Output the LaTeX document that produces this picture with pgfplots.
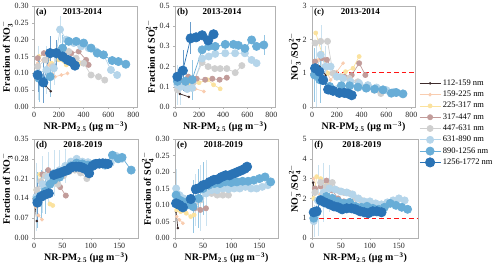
\documentclass[border=0pt]{standalone}
\usepackage{fontspec}
\setmainfont{Liberation Serif}
\usepackage{pgfplots}
\pgfplotsset{compat=1.18}
\definecolor{c1}{HTML}{3D2B2B}
\definecolor{c2}{HTML}{F9CDB0}
\definecolor{c3}{HTML}{FBE29E}
\definecolor{c4}{HTML}{C29C9A}
\definecolor{c5}{HTML}{CFCFCF}
\definecolor{c6}{HTML}{B5D5EA}
\definecolor{c7}{HTML}{68ADD7}
\definecolor{c8}{HTML}{2A73B5}
\definecolor{refred}{RGB}{255,20,20}
\pgfplotsset{
 panel/.style={scale only axis, width=103bp, height=101bp, xmin=0, clip=false,
  axis line style={gray!60}, tick style={gray!60, line width=0.4pt}, tick align=outside, major tick length=2pt,
  xtick pos=bottom, ytick pos=left,
  ticklabel style={font=\fontsize{8}{9}\selectfont, text=black!85},
  /pgf/number format/assume math mode=true,
  label style={font=\bfseries\fontsize{10}{11}\selectfont},
  xlabel={NR-PM$_{\mathbf{2.5}}$ (μg m$^{\mathbf{-3}}$)},
  xlabel style={yshift=3pt}, ylabel style={yshift=-5pt},
  legend image code/.code={\draw[mark repeat=2,mark phase=2] plot coordinates {(0cm,0cm)(0.37cm,0cm)(0.74cm,0cm)};},
 },
 toprow/.style={xmax=830, xtick={0,200,...,800}},
 botrow/.style={xmax=183, xtick={0,50,100,150}, height=99bp},
 eb/.style={error bars/.cd, y dir=both, y explicit, error mark=none, error bar style={#1!70, line width=0.35pt, solid}},
 s1/.style={color=c1, line width=0.7pt, mark=*, mark size=0.9pt, mark options={solid,fill=c1}},
 s2/.style={color=c2, line width=0.7pt, mark=*, mark size=1.5pt, mark options={solid,fill=c2}},
 s3/.style={color=c3, line width=0.7pt, mark=*, mark size=2.0pt, mark options={solid,fill=c3}},
 s4/.style={color=c4, line width=0.7pt, mark=*, mark size=2.6pt, mark options={solid,fill=c4}},
 s5/.style={color=c5, line width=0.7pt, mark=*, mark size=3.1pt, mark options={solid,fill=c5}},
 s6/.style={color=c6, line width=0.7pt, mark=*, mark size=3.6pt, mark options={solid,fill=c6}, eb=c6},
 s7/.style={color=c7, line width=0.7pt, mark=*, mark size=4.1pt, mark options={solid,fill=c7}, eb=c7},
 s8/.style={color=c8, line width=0.7pt, mark=*, mark size=4.7pt, mark options={solid,fill=c8}, eb=c8},
 reflin/.style={draw=refred, color=refred, line width=1.3pt, dash pattern=on 4.5pt off 3pt, forget plot, mark=none},
}
\newcommand{\plab}[2]{%
 \node[anchor=north west, font=\bfseries\fontsize{9}{9}\selectfont, inner sep=1pt] at (rel axis cs:0.01,0.985) {#1};
 \node[anchor=north, font=\bfseries\fontsize{9}{9}\selectfont, inner sep=1pt] at (rel axis cs:0.47,0.985) {#2};}
\begin{document}
\begin{tikzpicture}
\useasboundingbox (0,0) rectangle (500bp,270bp);
% (a)
\begin{axis}[panel, toprow, at={(34bp,264bp)}, anchor=north west,
 ymin=0, ymax=0.30, ytick={0,0.05,...,0.30}, yticklabel style={/pgf/number format/.cd, fixed, fixed zerofill, precision=2},
 ylabel={Fraction of NO$_{\mathbf{3}}^{\mathbf{-}}$}]
\addplot[s1] coordinates {(95,0.062)(135,0.047)};
\addplot[s2] coordinates {(30,0.13)(70,0.14)(120,0.125)(170,0.09)(220,0.095)(270,0.10)};
\addplot[s3] coordinates {(40,0.15)(90,0.16)(140,0.13)(200,0.14)(260,0.125)(330,0.14)(380,0.13)};
\addplot[s4] coordinates {(30,0.145)(80,0.16)(130,0.155)(190,0.16)(250,0.15)(300,0.16)(360,0.165)(420,0.14)(440,0.125)};
\addplot[s5] coordinates {(30,0.12)(90,0.14)(150,0.12)(210,0.17)(280,0.165)(340,0.145)(400,0.13)(460,0.095)(520,0.09)(570,0.08)};
\addplot[s6] coordinates {(30,0.10) +- (0,0.08) (100,0.11) +- (0,0.07) (160,0.115) +- (0,0.05) (210,0.23) +- (0,0.04) (260,0.20)(320,0.19)(380,0.18)(440,0.175)(500,0.165)(560,0.155)(620,0.11)(670,0.095)};
\addplot[s7] coordinates {(40,0.085) +- (0,0.07) (130,0.09) +- (0,0.06) (230,0.175) +- (0,0.04) (280,0.195)(340,0.195)(400,0.19)(460,0.175)(510,0.16)(560,0.155)(630,0.138)(680,0.135)(740,0.127)};
\addplot[s8] coordinates {(30,0.095) +- (0,0.05) (75,0.073) +- (0,0.06) (130,0.16) +- (0,0.05) (180,0.16) +- (0,0.04) (230,0.15)(270,0.14)(300,0.135)(330,0.123)};
\plab{(a)}{2013-2014}
\end{axis}
% (b)
\begin{axis}[panel, toprow, width=100bp, at={(175bp,264bp)}, anchor=north west,
 ymin=0, ymax=0.5, ytick={0,0.1,...,0.5}, yticklabel style={/pgf/number format/.cd, fixed, fixed zerofill, precision=1},
 ylabel={Fraction of SO$_{\mathbf{4}}^{\mathbf{2-}}$}]
\addplot[s1] coordinates {(40,0.065)(115,0.05)};
\addplot[s2] coordinates {(40,0.10)(100,0.105)(170,0.09)(240,0.077)};
\addplot[s3] coordinates {(60,0.10)(130,0.11)(200,0.12)(270,0.135)(320,0.11)(375,0.09)};
\addplot[s4] coordinates {(40,0.13)(110,0.15)(180,0.14)(250,0.135)(310,0.14)(370,0.135)(430,0.145)};
\addplot[s5] coordinates {(20,0.085)(90,0.10)(150,0.12)(225,0.22)(275,0.20)(330,0.19)(375,0.19)(430,0.19)(500,0.17)(555,0.205)};
\addplot[s6] coordinates {(20,0.11) +- (0,0.1) (47,0.10) +- (0,0.09) (101,0.089)(142,0.094)(225,0.24)(280,0.25)(334,0.263)(417,0.266)(499,0.266)(580,0.266)(636,0.233)(677,0.217)};
\addplot[s7] coordinates {(20,0.127)(88,0.127)(142,0.135) +- (0,0.1) (225,0.283)(280,0.30)(334,0.30)(417,0.31)(485,0.31)(526,0.305)(580,0.29)(636,0.332)(677,0.30)(737,0.307) +- (0,0.05)};
\addplot[s8] coordinates {(20,0.15)(65,0.18) +- (0,0.1) (130,0.34) +- (0,0.08) (175,0.345)(225,0.355)(275,0.33)(320,0.36)};
\plab{(b)}{2013-2014}
\end{axis}
% (c)
\begin{axis}[panel, toprow, at={(312bp,264bp)}, anchor=north west,
 ymin=0, ymax=3, ytick={0,1,2,3},
 ylabel={NO$_{\mathbf{3}}^{\mathbf{-}}$/SO$_{\mathbf{4}}^{\mathbf{2-}}$}]
\addplot[s1] coordinates {(60,1.2)(110,0.95)};
\addplot[s2] coordinates {(50,1.4)(100,1.2)(150,0.8)(200,1.05)(250,1.3)};
\addplot[s3] coordinates {(30,2.2)(80,1.6)(130,1.0)(200,0.9)(270,1.05)(330,1.15)(380,1.5)};
\addplot[s4] coordinates {(25,1.35)(80,1.45)(120,1.4)(180,1.0)(260,0.9)(320,0.95)(380,1.3)(430,0.95)};
\addplot[s5] coordinates {(25,1.9)(70,1.95)(125,1.95)(170,1.0)(230,0.9)(300,0.85)(370,0.75)(440,0.55)(500,0.5)(555,0.4)};
\addplot[s6] coordinates {(30,1.0) +- (0,1.0) (70,1.55) +- (0,0.9) (110,1.2) +- (0,0.6) (150,1.2)(200,0.9)(250,0.85)(310,0.75)(380,0.7)(450,0.65)(520,0.58)(600,0.5)(660,0.45)};
\addplot[s7] coordinates {(20,0.95) +- (0,0.8) (62,0.81) +- (0,0.7) (142,0.61)(236,0.63)(303,0.63)(370,0.59)(437,0.56)(505,0.53)(572,0.51)(639,0.41)(679,0.43)(733,0.39)};
\addplot[s8] coordinates {(25,1.15)(60,1.05)(90,0.8)(130,0.52)(170,0.48)(220,0.42)(260,0.42)(290,0.40)(320,0.35)};
\addplot[reflin] coordinates {(0,1.02)(830,1.02)};
\plab{(c)}{2013-2014}
\end{axis}
% (d)
\begin{axis}[panel, botrow, width=104bp, at={(34bp,131bp)}, anchor=north west,
 ymin=0, ymax=0.35, ytick={0,0.07,...,0.36}, yticklabel style={/pgf/number format/.cd, fixed, fixed zerofill, precision=2},
 ylabel={Fraction of NO$_{\mathbf{3}}^{\mathbf{-}}$}]
\addplot[s1] coordinates {(2,0.115)(5,0.06)};
\addplot[s2] coordinates {(3,0.11)(8,0.08)(14,0.065)};
\addplot[s3] coordinates {(3,0.17)(10,0.225)(20,0.17)(28,0.12)(33,0.115)};
\addplot[s4] coordinates {(5,0.15)(15,0.225)(25,0.24)(36,0.2)(46,0.18)(56,0.15)};
\addplot[s5] coordinates {(5,0.17)(12,0.2)(20,0.22)(30,0.2)(42,0.19)(52,0.22)(62,0.235)(72,0.24)(82,0.23)(93,0.21)};
\addplot[s6] coordinates {(4,0.145) +- (0,0.12) (15,0.19) +- (0,0.1) (25,0.215) +- (0,0.09) (35,0.23) +- (0,0.08) (45,0.24) +- (0,0.07) (55,0.255) +- (0,0.06) (65,0.27)(75,0.28)(85,0.27)(95,0.268)(105,0.262)(115,0.262)(125,0.255)(135,0.265)(145,0.29)(155,0.28)};
\addplot[s7] coordinates {(5,0.135) +- (0,0.1) (12,0.15) +- (0,0.09) (20,0.165) +- (0,0.08) (28,0.19)(35,0.205)(45,0.215)(55,0.235)(65,0.255)(75,0.265)(85,0.262)(95,0.258)(105,0.262)(115,0.265)(125,0.26)(138,0.293)(148,0.28)(155,0.285)(171,0.24)};
\addplot[s8] coordinates {(6,0.125) +- (0,0.07) (12,0.145)(18,0.152)(26,0.158)(35,0.223)(42,0.228)(47,0.231)(53,0.236)(59,0.24)(64,0.248)(68,0.252)(74,0.252)(79,0.252)(84,0.25)(88,0.246)(97,0.229)(103,0.255)(109,0.262)(115,0.263)(121,0.264)(126,0.263)(130,0.262)};
\plab{(d)}{2018-2019}
\end{axis}
% (e)
\begin{axis}[panel, botrow, at={(175bp,131bp)}, anchor=north west,
 ymin=0, ymax=0.30, ytick={0,0.05,...,0.30}, yticklabel style={/pgf/number format/.cd, fixed, fixed zerofill, precision=2},
 ylabel={Fraction of SO$_{\mathbf{4}}^{\mathbf{2-}}$}]
\addplot[s1] coordinates {(2,0.08)(5,0.03)};
\addplot[s2] coordinates {(3,0.065)(8,0.055)(14,0.045)};
\addplot[s3] coordinates {(3,0.085)(10,0.08)(20,0.075)(28,0.065)(34,0.07)};
\addplot[s4] coordinates {(5,0.10)(15,0.105)(25,0.11)(35,0.09)(45,0.085)(55,0.09)};
\addplot[s5] coordinates {(5,0.115)(15,0.12)(25,0.11)(35,0.105)(45,0.115)(55,0.135)(65,0.135)(75,0.13)(85,0.13)(95,0.13)};
\addplot[s6] coordinates {(2,0.15) +- (0,0.06) (8,0.13)(15,0.12)(25,0.11)(35,0.115) +- (0,0.08) (45,0.12) +- (0,0.1) (55,0.135) +- (0,0.1) (65,0.145)(75,0.145)(85,0.15)(95,0.148)(105,0.15)(115,0.15)(125,0.155)(135,0.15)(145,0.15)(155,0.155)(165,0.16)};
\addplot[s7] coordinates {(2,0.13)(8,0.115)(14,0.11)(22,0.10)(32,0.095) +- (0,0.08) (42,0.12) +- (0,0.09) (50,0.15) +- (0,0.08) (60,0.16)(70,0.165)(80,0.165)(90,0.17)(100,0.168)(110,0.17)(120,0.172)(130,0.172)(140,0.175)(150,0.18)(160,0.185)(170,0.17)};
\addplot[s8] coordinates {(2,0.105)(8,0.10)(14,0.093)(28,0.118)(37,0.148)(44,0.152)(50,0.16)(56,0.163)(62,0.17)(69,0.176)(76,0.178)(83,0.185)(90,0.19)(97,0.19)(104,0.195)(111,0.20)(118,0.205)(124,0.21)(128,0.216)};
\plab{(e)}{2018-2019}
\end{axis}
% (f)
\begin{axis}[panel, botrow, width=106bp, at={(312bp,131bp)}, anchor=north west,
 ymin=0, ymax=5, ytick={0,1,...,5},
 ylabel={NO$_{\mathbf{3}}^{\mathbf{-}}$/SO$_{\mathbf{4}}^{\mathbf{2-}}$},
 legend style={at={(1.01,1.62)}, anchor=north west, draw=none, fill=none, font=\fontsize{8.5}{9}\selectfont, row sep=0.2pt, inner sep=0pt},
 legend cell align=left]
\addplot[s1] coordinates {(2,2.8)(4,2.4)};
\addplot[s2] coordinates {(3,3.0)(8,2.5)(14,2.2)};
\addplot[s3] coordinates {(3,2.0)(8,3.1)(15,3.0)(25,2.7)(32,2.6)};
\addplot[s4] coordinates {(5,2.5)(15,2.6)(25,2.9)(35,2.4)(45,2.0)(55,1.85)};
\addplot[s5] coordinates {(5,2.3)(15,2.8)(25,2.6)(35,2.8)(45,2.4)(55,2.3)(65,2.25)(75,2.0)(85,1.9)(95,1.8)};
\addplot[s6] coordinates {(3,0.85) +- (0,0.8) (10,1.9) +- (0,1.8) (20,2.3) +- (0,1.5) (30,2.5) +- (0,1.2) (40,2.45)(50,2.35)(60,2.3)(70,2.2)(80,2.0)(90,1.85)(100,1.85)(110,1.75)(120,1.7)(130,1.8)(140,1.9)(150,2.0)(160,1.9)};
\addplot[s7] coordinates {(3,1.0)(8,1.3)(15,1.95)(25,2.1)(35,2.0)(45,1.85)(55,1.75)(65,1.8)(75,1.6)(85,1.55)(95,1.6)(105,1.5)(115,1.45)(125,1.55)(135,1.75)(145,1.65)(155,1.55)(165,1.45)};
\addplot[s8] coordinates {(3,1.3)(8,1.35)(15,1.9)(22,1.8)(30,1.7)(38,1.6)(45,1.55)(52,1.45)(60,1.5)(68,1.5)(75,1.45)(83,1.35)(90,1.3)(97,1.25)(105,1.35)(112,1.35)(120,1.3)};
\addplot[reflin] coordinates {(0,1)(183,1)};
\legend{112-159 nm,159-225 nm,225-317 nm,317-447 nm,447-631 nm,631-890 nm,890-1256 nm,1256-1772 nm}
\plab{(f)}{2018-2019}
\end{axis}
\end{tikzpicture}
\end{document}
